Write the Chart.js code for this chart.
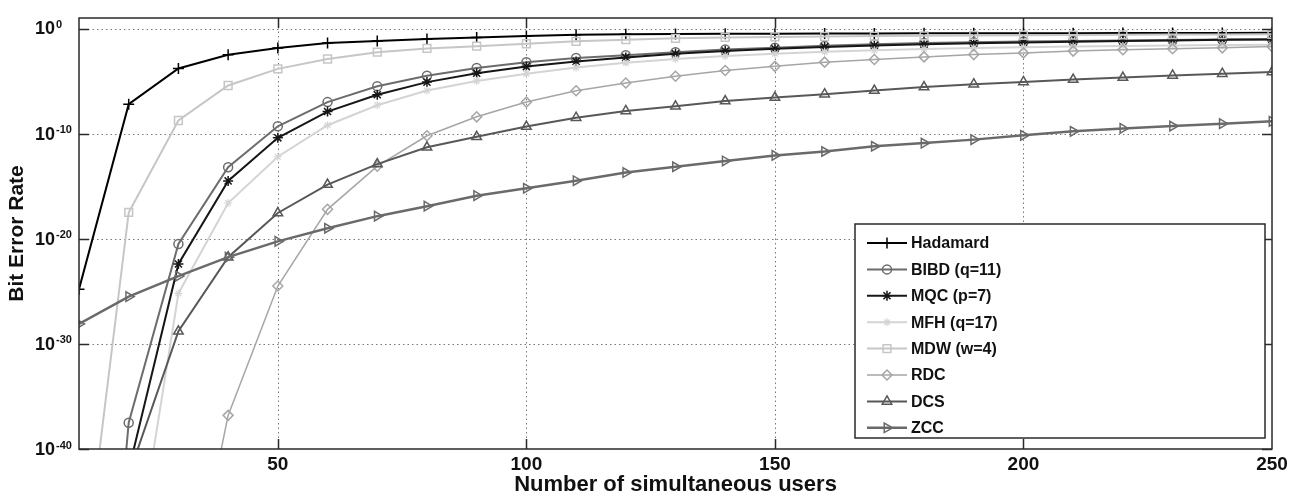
<!DOCTYPE html>
<html><head><meta charset="utf-8">
<script src="https://cdn.jsdelivr.net/npm/chart.js@4.4.0/dist/chart.umd.min.js"></script>
<style>html,body{margin:0;padding:0;background:#fff;}#wrap{width:1299px;height:496px;}</style>
</head><body><div id="wrap"><canvas id="c" width="1299" height="496"></canvas></div>
<script>
// Number of simultaneous users
const users = [10,20,30,40,50,60,70,80,90,100,110,120,130,140,150,160,170,180,190,200,210,220,230,240,250];
// log10(BER)
const hadamardLog = [-24.8,-7.2,-3.8,-2.5,-1.85,-1.37,-1.18,-1.0,-0.86,-0.72,-0.6,-0.54,-0.52,-0.5,-0.49,-0.48,-0.47,-0.46,-0.45,-0.44,-0.44,-0.43,-0.42,-0.42,-0.41];
const bibdLog = [-90,-37.5,-20.5,-13.2,-9.3,-7.0,-5.5,-4.5,-3.75,-3.2,-2.8,-2.55,-2.25,-2.0,-1.82,-1.65,-1.5,-1.38,-1.3,-1.24,-1.18,-1.13,-1.09,-1.05,-1.02];
const mqcLog = [-90,-42,-22.4,-14.5,-10.4,-7.9,-6.3,-5.1,-4.25,-3.62,-3.13,-2.75,-2.4,-2.15,-1.92,-1.75,-1.62,-1.5,-1.4,-1.32,-1.25,-1.19,-1.13,-1.08,-1.04];
const mfhLog = [-90,-55,-25.2,-16.6,-12.2,-9.2,-7.3,-5.9,-5.0,-4.3,-3.7,-3.25,-2.9,-2.62,-2.4,-2.22,-2.07,-1.95,-1.85,-1.78,-1.72,-1.67,-1.62,-1.58,-1.55];
const mdwLog = [-56,-17.5,-8.75,-5.42,-3.84,-2.9,-2.25,-1.9,-1.68,-1.45,-1.22,-1.06,-0.93,-0.85,-0.8,-0.76,-0.72,-0.69,-0.66,-0.64,-0.62,-0.6,-0.58,-0.57,-0.55];
const rdcLog = [-150,-100,-60,-36.8,-24.5,-17.2,-13.1,-10.2,-8.4,-7.0,-5.92,-5.18,-4.54,-4.0,-3.6,-3.2,-2.95,-2.7,-2.48,-2.32,-2.15,-2.02,-1.92,-1.84,-1.72];
const dcsLog = [-80,-42.5,-28.8,-21.75,-17.55,-14.85,-12.9,-11.3,-10.3,-9.33,-8.48,-7.84,-7.4,-6.9,-6.57,-6.25,-5.9,-5.57,-5.3,-5.08,-4.86,-4.67,-4.46,-4.3,-4.13];
const zccLog = [-28.1,-25.5,-23.55,-21.75,-20.25,-19.0,-17.85,-16.9,-15.9,-15.2,-14.48,-13.7,-13.15,-12.6,-12.07,-11.7,-11.2,-10.9,-10.57,-10.16,-9.78,-9.5,-9.28,-9.05,-8.83];
const seriesNames = ['Hadamard','BIBD (q=11)','MQC (p=7)','MFH (q=17)','MDW (w=4)','RDC','DCS','ZCC'];
const xTicks = [50,100,150,200,250];
const xGrid = [50,100,150,200];
const yTickExps = [0,-10,-20,-30,-40];

const logs = [hadamardLog,bibdLog,mqcLog,mfhLog,mdwLog,rdcLog,dcsLog,zccLog];
const styles = [
  {c:'#000000', w:2,   ps:'cross',    r:5.5, pw:1.5, rot:0},
  {c:'#6c6c6c', w:2,   ps:'circle',   r:4.5, pw:1.5, rot:0},
  {c:'#161616', w:2,   ps:'star',     r:5,   pw:1.5, rot:0},
  {c:'#d4d4d4', w:2,   ps:'star',     r:4,   pw:1.2, rot:0},
  {c:'#c6c6c6', w:2,   ps:'rect',     r:5.5, pw:1.5, rot:0},
  {c:'#a6a6a6', w:1.5, ps:'rectRot',  r:5,   pw:1.5, rot:0},
  {c:'#585858', w:2,   ps:'triangle', r:5.5, pw:1.5, rot:0},
  {c:'#6a6a6a', w:2.5, ps:'triangle', r:5.5, pw:1.5, rot:90}
];
const datasets = seriesNames.map((n,i)=>({
  label:n,
  data: users.map((u,k)=>({x:u, y:Math.pow(10, logs[i][k])})),
  borderColor:styles[i].c, borderWidth:styles[i].w,
  pointStyle:styles[i].ps, pointRadius:styles[i].r, pointBorderWidth:styles[i].pw,
  pointRotation:styles[i].rot, pointBorderColor:styles[i].c,
  pointBackgroundColor:'rgba(0,0,0,0)', fill:false, tension:0,
  order: 8-i
}));

const FONT = '"Liberation Sans", Arial, Helvetica, sans-serif';
const deco = {
  id:'deco',
  beforeDatasetsDraw(chart){
    const {ctx, chartArea:a, scales:{x,y}} = chart;
    ctx.save();
    ctx.strokeStyle='#7a7a7a'; ctx.lineWidth=1; ctx.setLineDash([1.5,3]);
    xGrid.forEach(v=>{const px=Math.round(x.getPixelForValue(v))+0.5; ctx.beginPath(); ctx.moveTo(px,a.top); ctx.lineTo(px,a.bottom); ctx.stroke();});
    yTickExps.slice(0,4).forEach(e=>{const py=Math.round(y.getPixelForValue(Math.pow(10,e)))+0.5; ctx.beginPath(); ctx.moveTo(a.left,py); ctx.lineTo(a.right,py); ctx.stroke();});
    ctx.restore();
  },
  afterDraw(chart){
    const {ctx, chartArea:a, scales:{x,y}} = chart;
    ctx.save();
    ctx.setLineDash([]);
    ctx.strokeStyle='#2a2a2a'; ctx.lineWidth=1.5;
    ctx.strokeRect(a.left, a.top, a.right-a.left, a.bottom-a.top);
    // inward ticks
    xGrid.forEach(v=>{const px=Math.round(x.getPixelForValue(v))+0.5;
      ctx.beginPath(); ctx.moveTo(px,a.bottom); ctx.lineTo(px,a.bottom-10); ctx.moveTo(px,a.top); ctx.lineTo(px,a.top+10); ctx.stroke();});
    yTickExps.forEach(e=>{const py=Math.round(y.getPixelForValue(Math.pow(10,e)))+0.5;
      ctx.beginPath(); ctx.moveTo(a.left,py); ctx.lineTo(a.left+10,py); ctx.moveTo(a.right,py); ctx.lineTo(a.right-10,py); ctx.stroke();});
    // x tick labels
    ctx.fillStyle='#111';
    ctx.font='bold 19px '+FONT; ctx.textAlign='center'; ctx.textBaseline='middle';
    xTicks.forEach(v=>ctx.fillText(String(v), x.getPixelForValue(v), 465));
    // y tick labels 10^e
    yTickExps.forEach(e=>{
      const py=y.getPixelForValue(Math.pow(10,e));
      ctx.font='bold 18px '+FONT; ctx.textAlign='left'; ctx.textBaseline='middle';
      ctx.fillText('10', 35, py+1);
      const w=ctx.measureText('10').width;
      ctx.font='bold 11px '+FONT; ctx.textBaseline='top';
      ctx.fillText(String(e), 35+w+1, py-9);
    });
    // axis titles
    ctx.font='bold 22px '+FONT; ctx.textAlign='center'; ctx.textBaseline='middle';
    ctx.fillText('Number of simultaneous users', (a.left+a.right)/2, 485);
    ctx.font='bold 21px '+FONT;
    ctx.save(); ctx.translate(17,(a.top+a.bottom)/2); ctx.rotate(-Math.PI/2);
    ctx.fillText('Bit Error Rate', 0, 0); ctx.restore();
    // legend
    const L=855, T=224, R=1265, B=438;
    ctx.fillStyle='#fff'; ctx.fillRect(L,T,R-L,B-T);
    ctx.strokeStyle='#2a2a2a'; ctx.lineWidth=1.5; ctx.strokeRect(L,T,R-L,B-T);
    chart.data.datasets.forEach((ds,i)=>{
      const yy = 243 + i*26.4;
      ctx.strokeStyle=ds.borderColor; ctx.lineWidth=ds.borderWidth;
      ctx.beginPath(); ctx.moveTo(L+12,yy); ctx.lineTo(L+52,yy); ctx.stroke();
      ctx.lineWidth=ds.pointBorderWidth; ctx.fillStyle='rgba(0,0,0,0)';
      Chart.helpers.drawPoint(ctx,{pointStyle:ds.pointStyle, radius:ds.pointRadius, rotation:ds.pointRotation, borderWidth:ds.pointBorderWidth}, L+32, yy);
      ctx.fillStyle='#111'; ctx.font='bold 16px '+FONT; ctx.textAlign='left'; ctx.textBaseline='middle';
      ctx.fillText(ds.label, L+56, yy+1);
    });
    ctx.restore();
  }
};

new Chart(document.getElementById('c'), {
  type:'line',
  data:{datasets},
  options:{
    responsive:false, animation:false,
    layout:{padding:{left:0,right:27,top:18,bottom:0}},
    plugins:{legend:{display:false}, tooltip:{enabled:false}},
    scales:{
      x:{type:'linear', min:10, max:250, grid:{display:false}, border:{display:false}, ticks:{display:false}, afterFit(s){s.height=47;}},
      y:{type:'logarithmic', min:1e-40, max:10, grid:{display:false}, border:{display:false}, ticks:{display:false}, afterFit(s){s.width=79;}}
    }
  },
  plugins:[deco]
});
</script></body></html>
